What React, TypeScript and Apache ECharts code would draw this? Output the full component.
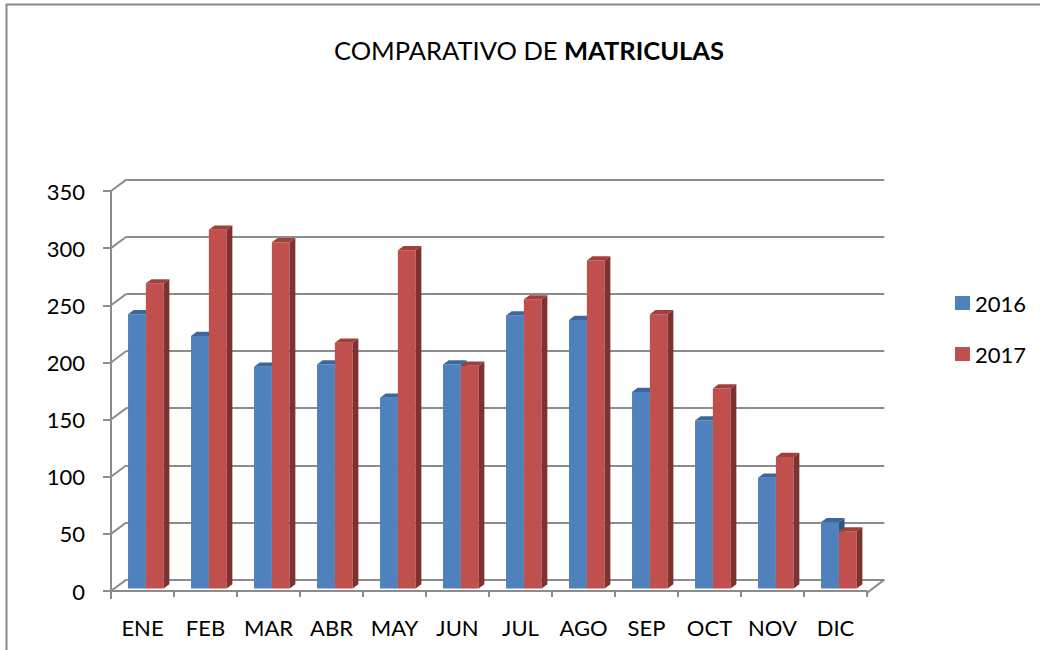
import React, { useEffect, useRef } from "react";
import * as echarts from "echarts";

const categories = ["ENE", "FEB", "MAR", "ABR", "MAY", "JUN", "JUL", "AGO", "SEP", "OCT", "NOV", "DIC"];
const values2016 = [240, 221, 194, 196, 167, 196, 239, 235, 172, 147, 97, 58];
const values2017 = [267, 314, 303, 215, 296, 195, 253, 287, 240, 175, 115, 50];
const yTicks = [0, 50, 100, 150, 200, 250, 300, 350];
const seriesNames = ["2016", "2017"];

const FONT = "Lato, 'Open Sans', sans-serif";
const GRID_COLOR = "#8c8c8c";
const DEPTH_X = 15.3;
const DEPTH_Y = 11.4;
const BAR_OFF = 0.22;
const BAR_DEPTH = 0.37;
const BAR_FRAC = 0.283;

const COLORS = [
  { front: "#4f81bd", top: "#3c679c", side: "#2f5482" },
  { front: "#c0504d", top: "#a13f3c", side: "#7e3230" },
];

function makeBarRender(seriesIdx: number) {
  const col = COLORS[seriesIdx];
  return (params: any, api: any) => {
    const i = api.value(0);
    const v = api.value(1);
    const band = api.size([1, 0])[0];
    const c = api.coord([i, v]);
    const b = api.coord([i, 0]);
    const w = band * BAR_FRAC;
    const ox = DEPTH_X * BAR_OFF;
    const oy = -DEPTH_Y * BAR_OFF;
    const dx = DEPTH_X * BAR_DEPTH;
    const dy = -DEPTH_Y * BAR_DEPTH;
    const x = c[0] - w + seriesIdx * w + ox;
    const yT = c[1] + oy;
    const yB = b[1] + oy;
    return {
      type: "group",
      children: [
        { type: "rect", shape: { x, y: yT, width: w, height: yB - yT }, style: { fill: col.front } },
        {
          type: "polygon",
          shape: { points: [[x, yT], [x + dx, yT + dy], [x + w + dx, yT + dy], [x + w, yT]] },
          style: { fill: col.top },
        },
        {
          type: "polygon",
          shape: { points: [[x + w, yT], [x + w + dx, yT + dy], [x + w + dx, yB + dy], [x + w, yB]] },
          style: { fill: col.side },
        },
      ],
    };
  };
}

function wallRender(params: any, api: any) {
  const v = api.value(1);
  const y = api.coord([0, v])[1];
  const cs = params.coordSys;
  const x0 = cs.x;
  const children: any[] = [
    {
      type: "line",
      shape: { x1: x0, y1: y, x2: x0 + DEPTH_X, y2: y - DEPTH_Y },
      style: { stroke: GRID_COLOR, lineWidth: 2 },
    },
  ];
  if (v === 0) {
    const right = cs.x + cs.width;
    children.push({
      type: "line",
      shape: { x1: x0, y1: y, x2: x0, y2: y + 8 },
      style: { stroke: GRID_COLOR, lineWidth: 2 },
    });
    children.push({
      type: "line",
      shape: { x1: right, y1: y + 2, x2: right + DEPTH_X + 2, y2: y - DEPTH_Y },
      style: { stroke: GRID_COLOR, lineWidth: 2 },
    });
  }
  return { type: "group", children };
}

export default function App() {
  const ref = useRef<HTMLDivElement>(null);
  useEffect(() => {
    if (!ref.current) return;
    const chart = echarts.init(ref.current, undefined, { renderer: "svg" });
    const option: any = {
      animation: false,
      backgroundColor: "#ffffff",
      graphic: [
        {
          type: "rect",
          shape: { x: 6.5, y: 4.5, width: 1100, height: 700 },
          style: { fill: "none", stroke: "#8a8a8a", lineWidth: 2 },
          silent: true,
        },
        {
          type: "text",
          x: 529,
          y: 50,
          style: {
            text: "{a|COMPARATIVO DE }{b|MATRICULAS}",
            align: "center",
            verticalAlign: "middle",
            rich: {
              a: { fontSize: 25.5, fontFamily: FONT, fill: "#000" },
              b: { fontSize: 25.5, fontFamily: FONT, fontWeight: "bold", fill: "#000" },
            },
          },
        },
      ],
      legend: {
        orient: "vertical",
        left: 950,
        top: 287,
        itemWidth: 15,
        itemHeight: 14,
        itemGap: 29,
        icon: "rect",
        data: seriesNames,
        textStyle: { fontSize: 22, fontFamily: FONT, color: "#000", lineHeight: 20 },
      },
      grid: [
        { left: 111, top: 191, width: 756, height: 400 },
        { left: 126.3, top: 179.6, width: 758, height: 400 },
      ],
      xAxis: [
        {
          type: "category",
          gridIndex: 0,
          data: categories,
          offset: 3,
          axisLine: { lineStyle: { color: GRID_COLOR, width: 2 } },
          axisTick: { show: true, length: 6, interval: 0, lineStyle: { color: GRID_COLOR, width: 2 } },
          axisLabel: { fontSize: 22, fontFamily: FONT, color: "#000", margin: 22, interval: 0 },
        },
        {
          type: "category",
          gridIndex: 1,
          data: categories,
          show: false,
        },
      ],
      yAxis: [
        {
          type: "value",
          gridIndex: 0,
          min: 0,
          max: 350,
          interval: 50,
          axisLine: { show: true, lineStyle: { color: GRID_COLOR, width: 2 } },
          axisTick: { show: true, length: 8, lineStyle: { color: GRID_COLOR, width: 2 } },
          axisLabel: { fontSize: 22, fontFamily: FONT, color: "#000", margin: 26 },
          splitLine: { show: false },
        },
        {
          type: "value",
          gridIndex: 1,
          min: 0,
          max: 350,
          interval: 50,
          axisLine: { show: false },
          axisTick: { show: false },
          axisLabel: { show: false },
          splitLine: { show: true, lineStyle: { color: GRID_COLOR, width: 2 } },
        },
      ],
      series: [
        {
          type: "custom",
          name: "walls",
          xAxisIndex: 0,
          yAxisIndex: 0,
          silent: true,
          z: 1,
          data: yTicks.map((v) => [0, v]),
          renderItem: wallRender,
        },
        {
          type: "custom",
          name: seriesNames[0],
          xAxisIndex: 0,
          yAxisIndex: 0,
          itemStyle: { color: COLORS[0].front },
          z: 3,
          data: values2016.map((v, i) => [i, v]),
          renderItem: makeBarRender(0),
        },
        {
          type: "custom",
          name: seriesNames[1],
          xAxisIndex: 0,
          yAxisIndex: 0,
          itemStyle: { color: COLORS[1].front },
          z: 4,
          data: values2017.map((v, i) => [i, v]),
          renderItem: makeBarRender(1),
        },
      ],
    };
    chart.setOption(option);
    return () => chart.dispose();
  }, []);
  return (
    <div
      ref={ref}
      style={{ position: "absolute", left: 0, top: 0, width: 1040, height: 650 }}
    />
  );
}
